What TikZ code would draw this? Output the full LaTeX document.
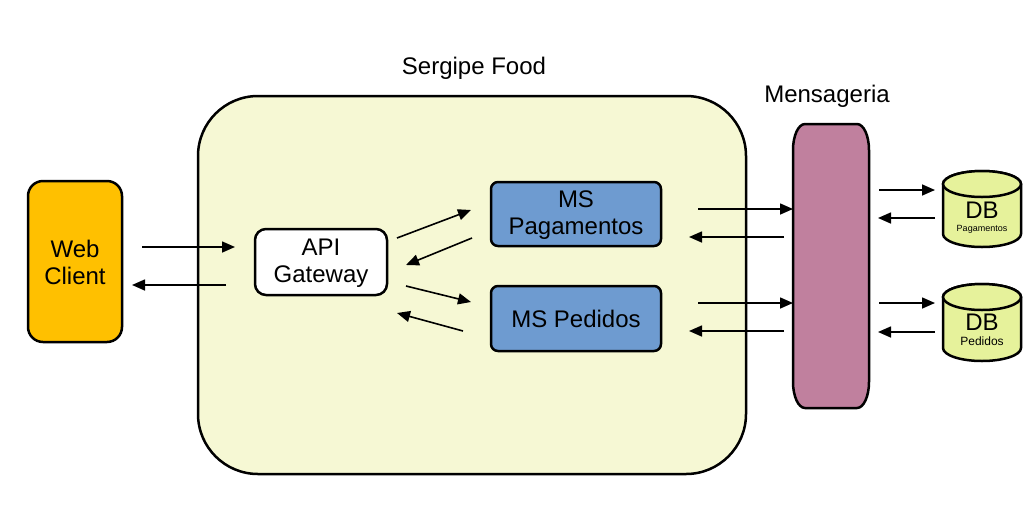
\documentclass[tikz,border=0pt]{standalone}
\usepackage{fontspec}
\setmainfont{Liberation Sans}
\usetikzlibrary{arrows.meta}
\definecolor{webc}{RGB}{255,192,0}
\definecolor{contc}{RGB}{246,248,212}
\definecolor{msc}{RGB}{110,155,208}
\definecolor{mqc}{RGB}{192,128,158}
\definecolor{dbc}{RGB}{230,242,155}
\tikzset{
  big/.style={font=\fontsize{24}{27}\selectfont, align=center},
  box/.style={draw=black, line width=2.5pt},
  arr/.style={line width=1.6pt, -{Triangle[length=13pt,width=11pt]}},
}
\begin{document}
\begin{tikzpicture}[x=1pt,y=-1pt]
\useasboundingbox (0,0) rectangle (1031,523);
% container
\draw[box, fill=contc, rounded corners=60] (198,96) rectangle (746,474);
\node[big] (title) at (474,68) {Sergipe Food};
\node[big] (mtitle) at (827,96) {Mensageria};
% web client
\draw[box, fill=webc, rounded corners=15] (28,181) rectangle (122,342);
\node[big] (web) at (75,262) {Web\\Client};
% api gateway
\draw[box, fill=white, rounded corners=11] (255,229) rectangle (387,295);
\node[big] (api) at (321,263) {API\\Gateway};
% ms
\draw[box, fill=msc, rounded corners=7] (491,182) rectangle (661,246);
\node[big] (mspag) at (576,215) {MS\\Pagamentos};
\draw[box, fill=msc, rounded corners=7] (491,286) rectangle (661,351);
\node[big] (msped) at (576,319) {MS Pedidos};
% mensageria
\draw[box, fill=mqc] (805,124) -- (857,124)
  arc[start angle=-90,end angle=0,x radius=12,y radius=26] -- (869,382)
  arc[start angle=0,end angle=90,x radius=12,y radius=26] -- (805,408)
  arc[start angle=90,end angle=180,x radius=12,y radius=26] -- (793,150)
  arc[start angle=180,end angle=270,x radius=12,y radius=26] -- cycle;
\coordinate (mq) at (831,266);
% DB cylinders
\draw[box, fill=dbc] (943,184) arc[start angle=180,end angle=360,x radius=39,y radius=13]
  -- (1021,234) arc[start angle=0,end angle=180,x radius=39,y radius=13] -- cycle;
\draw[box, fill=dbc] (982,184) ellipse[x radius=39,y radius=13];
\node[big] (db1) at (982,210) {DB};
\node[font=\fontsize{9}{10}\selectfont] (db1s) at (982,229) {Pagamentos};
\draw[box, fill=dbc] (943,297) arc[start angle=180,end angle=360,x radius=39,y radius=13]
  -- (1021,348) arc[start angle=0,end angle=180,x radius=39,y radius=13] -- cycle;
\draw[box, fill=dbc] (982,297) ellipse[x radius=39,y radius=13];
\node[big] (db2) at (982,322) {DB};
\node[font=\fontsize{12}{13}\selectfont] (db2s) at (982,341) {Pedidos};
% arrow endpoints
\coordinate (a1s) at (142,247); \coordinate (a1e) at (235,247);
\coordinate (a2s) at (226,285); \coordinate (a2e) at (132,285);
\coordinate (a3s) at (397,238); \coordinate (a3e) at (471,210);
\coordinate (a4s) at (472,238); \coordinate (a4e) at (406,265);
\coordinate (a5s) at (406,286); \coordinate (a5e) at (471,302);
\coordinate (a6s) at (463,331); \coordinate (a6e) at (397,313);
\coordinate (b1s) at (698,209); \coordinate (b1e) at (793,209);
\coordinate (b2s) at (784,237); \coordinate (b2e) at (689,237);
\coordinate (b3s) at (698,303); \coordinate (b3e) at (793,303);
\coordinate (b4s) at (784,331); \coordinate (b4e) at (689,331);
\coordinate (c1s) at (879,190); \coordinate (c1e) at (935,190);
\coordinate (c2s) at (935,218); \coordinate (c2e) at (878,218);
\coordinate (c3s) at (879,303); \coordinate (c3e) at (935,303);
\coordinate (c4s) at (935,332); \coordinate (c4e) at (878,332);
\foreach \s/\e in {a1s/a1e,a2s/a2e,a3s/a3e,a4s/a4e,a5s/a5e,a6s/a6e,b1s/b1e,b2s/b2e,b3s/b3e,b4s/b4e,c1s/c1e,c2s/c2e,c3s/c3e,c4s/c4e}
  \draw[arr] (\s) -- (\e);
\end{tikzpicture}
\end{document}
